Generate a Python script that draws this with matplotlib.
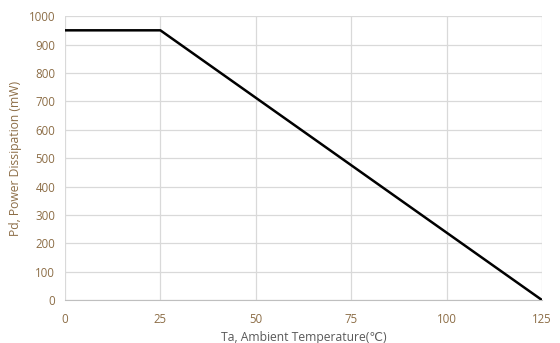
import matplotlib
matplotlib.use('Agg')
import matplotlib.pyplot as plt

plt.rcParams['font.family'] = ['Open Sans', 'DejaVu Sans']

# derating curve
temp = [0, 25, 125]
power = [950, 950, 0]

xticks = [0, 25, 50, 75, 100, 125]
yticks = [0, 100, 200, 300, 400, 500, 600, 700, 800, 900, 1000]

tick_col = '#8c6d46'
grid_col = '#d9d9d9'

fig = plt.figure(figsize=(5.6, 3.43), dpi=100)
ax = fig.add_axes([0.116, 0.125, 0.852, 0.828])

ax.plot(temp, power, color='black', linewidth=1.8, solid_capstyle='butt', zorder=3)

ax.set_xlim(0, 125)
ax.set_ylim(0, 1000)
ax.set_xticks(xticks)
ax.set_yticks(yticks)
ax.grid(True, color=grid_col, linewidth=0.9)
for s in ax.spines.values():
    s.set_visible(False)
ax.spines['bottom'].set_visible(True)
ax.spines['bottom'].set_color('#bfbfbf')
ax.tick_params(length=0, labelsize=8.3, labelcolor=tick_col)
ax.tick_params(axis='x', pad=9)
ax.tick_params(axis='y', pad=7)

ax.set_xlabel('Ta, Ambient Temperature(\u2103)', fontsize=8.7, color='#595959', labelpad=4)
ax.set_ylabel('Pd, Power Dissipation (mW)', fontsize=8.7, color=tick_col, labelpad=5)

fig.savefig('out.png', dpi=100)
